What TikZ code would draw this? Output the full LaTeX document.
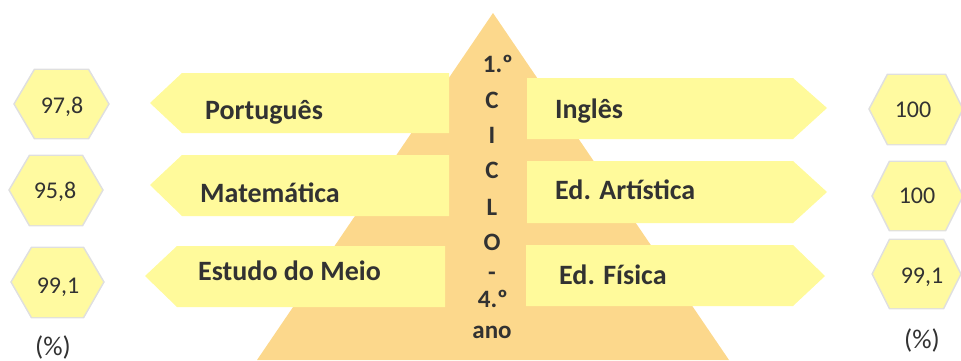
\documentclass[tikz,border=0pt]{standalone}
\usepackage{fontspec}
\setmainfont{Carlito}
\usetikzlibrary{shadows}
\definecolor{pyr}{RGB}{252,216,140}
\definecolor{arr}{RGB}{255,250,155}
\definecolor{hexc}{RGB}{255,250,160}
\definecolor{txt}{RGB}{50,50,50}
\begin{document}
\begin{tikzpicture}[x=1pt,y=-1pt,
  lab/.style={font=\fontsize{28}{28}\selectfont\bfseries, text=txt, anchor=base west, inner sep=0pt},
  num/.style={font=\fontsize{24}{24}\selectfont, text=txt, anchor=base, inner sep=0pt},
  col/.style={font=\fontsize{25}{25}\selectfont\bfseries, text=txt, anchor=base, inner sep=0pt},
  hexbox/.style={fill=hexc, drop shadow={opacity=0.25, shadow xshift=0pt, shadow yshift=0pt, shadow scale=1.04}},
  arrbox/.style={fill=arr}]
\useasboundingbox (0,0) rectangle (961,360);
% pyramid
\fill[pyr] (493,13) -- (729,360) -- (257,360) -- cycle;
% left arrows
\fill[arrbox] (449,73) -- (182,73) -- (150,103) -- (182,133) -- (449,133) -- cycle;
\fill[arrbox] (449,155) -- (182,155) -- (150,185) -- (182,216) -- (449,216) -- cycle;
\fill[arrbox] (445,246) -- (177,246) -- (145,276) -- (177,307) -- (445,307) -- cycle;
% right arrows
\fill[arrbox] (527,78) -- (793,78) -- (827,108) -- (793,139) -- (527,139) -- cycle;
\fill[arrbox] (527,161) -- (793,161) -- (827,192) -- (793,223) -- (527,223) -- cycle;
\fill[arrbox] (526,245) -- (793,245) -- (825,276) -- (793,306) -- (526,306) -- cycle;
% hexagons left
\path[hexbox] (15,104) -- (35,70) -- (88,70) -- (108,104) -- (88,138) -- (35,138) -- cycle;
\path[hexbox] (10,190) -- (30,156) -- (82,156) -- (102,190) -- (82,225) -- (30,225) -- cycle;
\path[hexbox] (12,282) -- (32,248) -- (83,248) -- (103,282) -- (83,317) -- (32,317) -- cycle;
% hexagons right
\path[hexbox] (870,109) -- (888,75) -- (945,75) -- (962,109) -- (945,144) -- (888,144) -- cycle;
\path[hexbox] (873,196) -- (890,162) -- (945,162) -- (962,196) -- (945,230) -- (890,230) -- cycle;
\path[hexbox] (873,274) -- (890,240) -- (943,240) -- (960,274) -- (943,308) -- (890,308) -- cycle;
% labels
\node[lab] (pt) at (205,119) {Português};
\node[lab] (mat) at (200,202) {Matemática};
\node[lab] (em) at (198,280) {Estudo do Meio};
\node[lab] (ing) at (555,118) {Inglês};
\node[lab] (art) at (555,199) {Ed. Artística};
\node[lab] (fis) at (559,284) {Ed. Física};
% numbers
\node[num] (n1) at (62,113) {97,8};
\node[num] (n2) at (55,198) {95,8};
\node[num] (n3) at (58,293) {99,1};
\node[num] (n4) at (913,117) {100};
\node[num] (n5) at (917,203) {100};
\node[num] (n6) at (922,283) {99,1};
\node[num, font=\fontsize{27}{27}\selectfont] (p1) at (53,355) {(\%)};
\node[num, font=\fontsize{27}{27}\selectfont] (p2) at (922,348) {(\%)};
% central column
\node[col] (c1) at (498,72) {1.º};
\node[col] (c2) at (492,108) {C};
\node[col] (c3) at (492,143) {I};
\node[col] (c4) at (492,178) {C};
\node[col] (c5) at (492,215) {L};
\node[col] (c6) at (492,250) {O};
\node[col] (c7) at (492,280) {-};
\node[col] (c8) at (493,307) {4.º};
\node[col] (c9) at (492,338) {ano};
\end{tikzpicture}
\end{document}
